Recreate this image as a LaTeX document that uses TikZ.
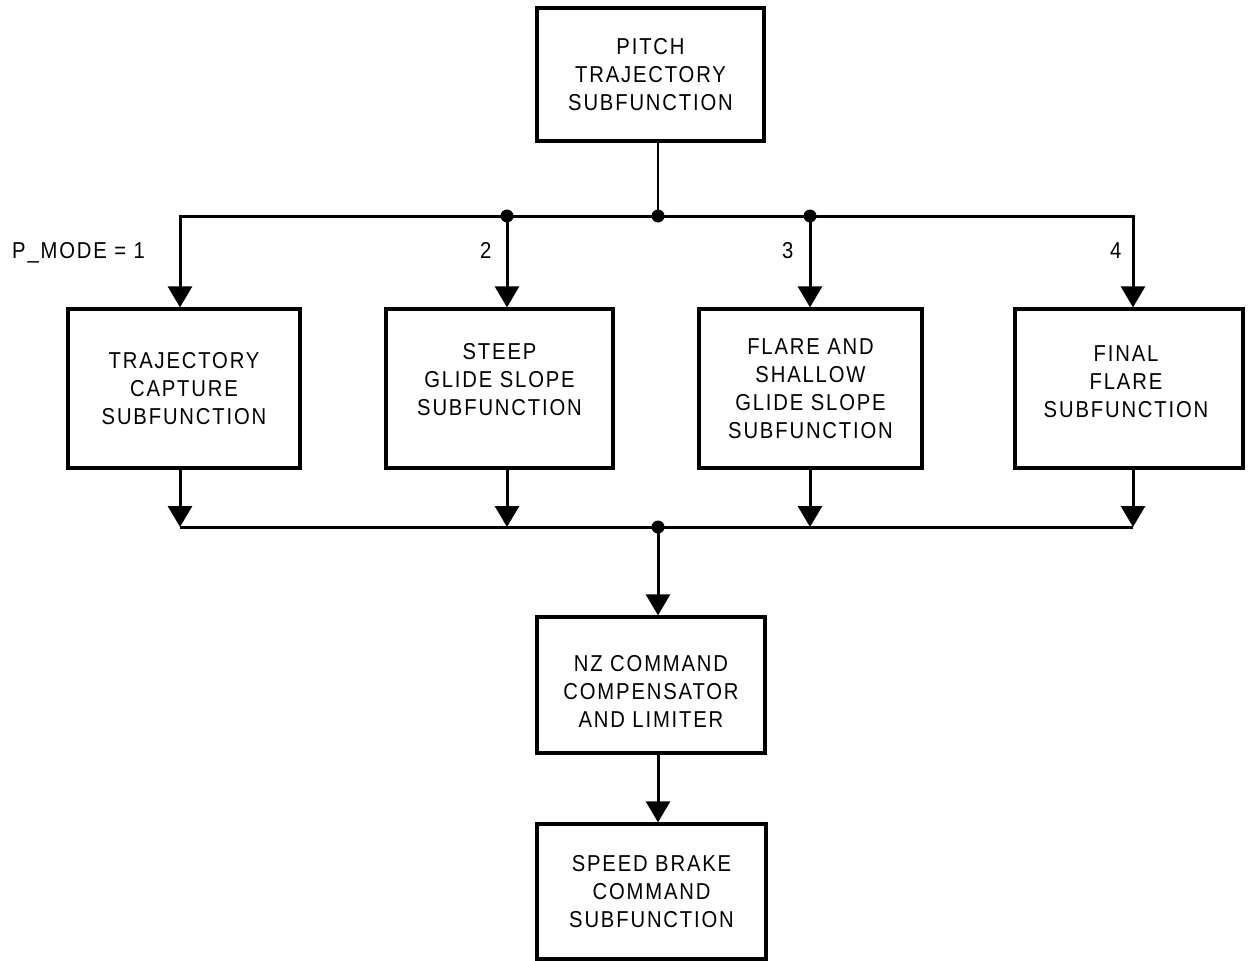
\documentclass[tikz,border=0pt]{standalone}
\usepackage{fontspec}
\setmainfont{Liberation Sans}[FakeStretch=0.88,LetterSpace=8]
\usetikzlibrary{arrows.meta}
\begin{document}
\begin{tikzpicture}[x=1pt,y=-1pt,
  box/.style={draw, line width=3.3pt, inner sep=0pt, align=center, font=\fontsize{23}{28}\selectfont},
  boxtext/.style={inner sep=0pt, align=center, font=\fontsize{23}{28}\selectfont},
  wire/.style={line width=3pt},
  flow/.style={wire, -{Triangle[width=24pt,length=21pt]}},
  dot/.style={circle, fill, inner sep=0pt, minimum size=13pt},
  lbl/.style={font=\fontsize{23}{28}\selectfont, inner sep=0pt}]
\useasboundingbox (0,0) rectangle (1248,961);

% boxes
\node[box, minimum width=227pt, minimum height=133pt] (pitch) at (650.5,74.5) {PITCH\\TRAJECTORY\\SUBFUNCTION};
\node[box, minimum width=232pt, minimum height=159pt] (traj) at (184,388.5) {TRAJECTORY\\CAPTURE\\SUBFUNCTION};
\node[box, minimum width=227pt, minimum height=159pt] (steep) at (499.5,388.5) {};
\node[boxtext] (steept) at (499.5,380) {STEEP\\GLIDE SLOPE\\SUBFUNCTION};
\node[box, minimum width=223pt, minimum height=159pt] (flare) at (810.5,388.5) {FLARE AND\\SHALLOW\\GLIDE SLOPE\\SUBFUNCTION};
\node[box, minimum width=228pt, minimum height=159pt] (final) at (1129,388.5) {};
\node[boxtext] (finalt) at (1126,382) {FINAL\\FLARE\\SUBFUNCTION};
\node[box, minimum width=228pt, minimum height=136pt] (nz) at (651,685) {};
\node[boxtext] (nzt) at (651,691) {NZ COMMAND\\COMPENSATOR\\AND LIMITER};
\node[box, minimum width=229pt, minimum height=135pt] (speed) at (651.5,891.5) {SPEED BRAKE\\COMMAND\\SUBFUNCTION};

% junctions
\coordinate (tl) at (180,216);
\coordinate (tr) at (1133,216);
\node[dot] (d0) at (658,216) {};
\node[dot] (d2) at (507,216) {};
\node[dot] (d3) at (810,216) {};
\coordinate (bl) at (180,527);
\coordinate (br) at (1133,527);
\node[dot] (d5) at (658,527) {};

% top distribution
\draw[line width=2.2pt] (pitch.south -| d0) -- (d0.center);
\draw[flow] (d0.center) -- (tl) -- (tl |- traj.north);
\draw[flow] (d0.center) -- (tr) -- (tr |- final.north);
\draw[flow] (d2.center) -- (d2 |- steep.north);
\draw[flow] (d3.center) -- (d3 |- flare.north);

% bottom collection
\draw[wire] (bl) -- (br);
\draw[flow] (traj.south -| bl) -- (bl);
\draw[flow] (steep.south -| d2) -- (d2 |- bl);
\draw[flow] (flare.south -| d3) -- (d3 |- bl);
\draw[flow] (final.south -| br) -- (br);
\draw[flow] (d5.center) -- (d5 |- nz.north);
\draw[flow] (nz.south -| d5) -- (d5 |- speed.north);

% labels
\node[lbl, anchor=base west] (m1) at (12,258) {P\_MODE = 1};
\node[lbl, anchor=base west] (m2) at (480,258) {2};
\node[lbl, anchor=base west] (m3) at (782,258) {3};
\node[lbl, anchor=base west] (m4) at (1110,258) {4};
\end{tikzpicture}
\end{document}
